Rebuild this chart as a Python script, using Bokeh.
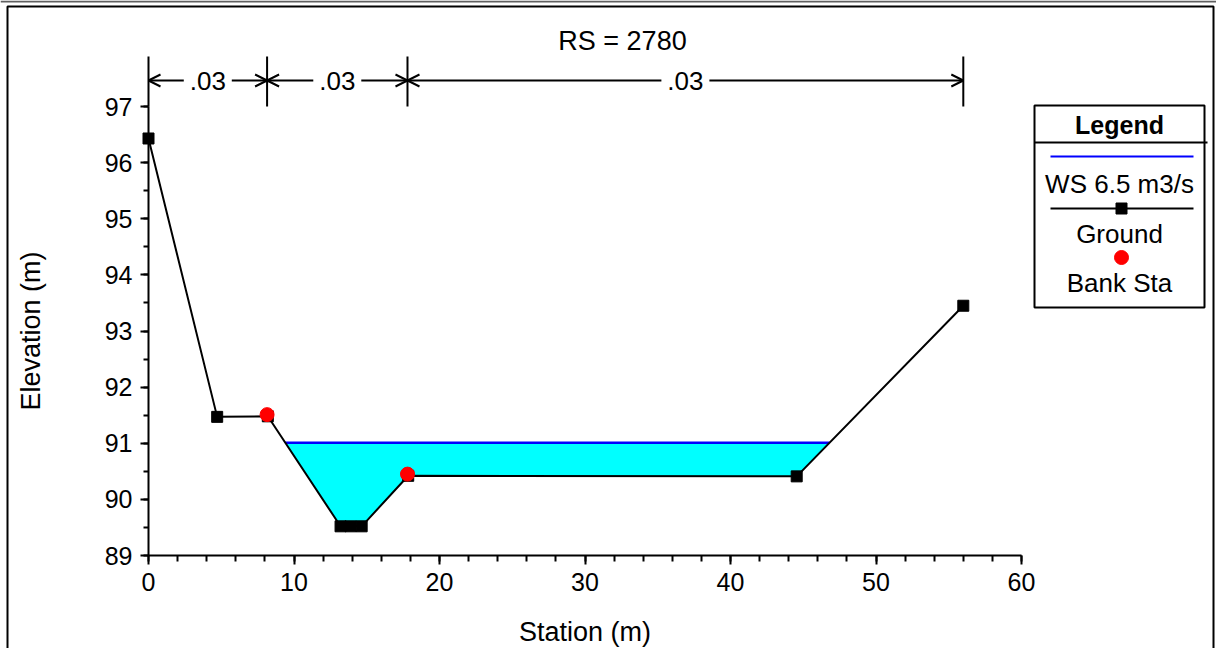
import numpy as np
from bokeh.plotting import figure
from bokeh.models import Range1d, SingleIntervalTicker, Arrow, OpenHead, Label
from bokeh.embed import file_html
from bokeh.resources import INLINE

# ---- cross-section data -------------------------------------------------
river_station = "2780"

# ground profile (station, elevation) in metres
station = [0.0, 4.72, 8.2, 13.2, 13.9, 14.65, 17.85, 44.55, 56.0]
elevation = [96.43, 91.47, 91.48, 89.52, 89.52, 89.52, 90.42, 90.41, 93.45]

# left / right bank stations
bank_station = [8.15, 17.8]
bank_elevation = [91.51, 90.45]

# computed water surface
ws_label = "WS 6.5 m3/s"
ws_elevation = 91.01

# Manning's n regions
n_bounds = [0.0, 8.15, 17.8, 56.0]
n_values = [".03", ".03", ".03"]

# axis extents
x_min, x_max, x_step = 0, 60, 10
y_min, y_max, y_step = 89, 97, 1

FONT = "Liberation Sans"
W, H = 1216, 648
# canvas pixels of the axis corners
AX_L, AX_R, AX_T, AX_B = 148.0, 1021.0, 106.0, 555.0
SX = (AX_R - AX_L) / (x_max - x_min)
SY = (AX_B - AX_T) / (y_max - y_min)


def X(px):
    """canvas column -> station"""
    return x_min + (px - AX_L) / SX


def Y(py):
    """canvas row -> elevation"""
    return y_min + (AX_B - py) / SY


def wet_area(xs, ys, level):
    """Polygon of the flow area below the water level."""
    px, py = [], []
    for i in range(len(xs) - 1):
        x0, y0, x1, y1 = xs[i], ys[i], xs[i + 1], ys[i + 1]
        if y0 < level:
            px.append(x0)
            py.append(y0)
        if (y0 - level) * (y1 - level) < 0:
            px.append(x0 + (level - y0) * (x1 - x0) / (y1 - y0))
            py.append(level)
    if ys[-1] < level:
        px.append(xs[-1])
        py.append(ys[-1])
    return px, py


# the frame fills the whole canvas; axes sit at fixed data locations inside it
p = figure(width=W, height=H, x_range=Range1d(X(0), X(W)),
           y_range=Range1d(Y(H), Y(0)), output_backend="svg",
           toolbar_location=None, min_border=0)
p.grid.visible = False
p.outline_line_color = None
p.background_fill_color = "white"
p.border_fill_color = "white"

# ---- axes ---------------------------------------------------------------
p.xaxis.ticker = SingleIntervalTicker(interval=x_step, num_minor_ticks=5)
p.yaxis.ticker = SingleIntervalTicker(interval=y_step, num_minor_ticks=2)
p.xaxis.bounds = (x_min, x_max)
p.yaxis.bounds = (y_min, y_max)
p.xaxis.fixed_location = y_min
p.yaxis.fixed_location = x_min
p.xaxis.axis_label = "Station (m)"
p.yaxis.axis_label = "Elevation (m)"
for ax in (p.xaxis[0], p.yaxis[0]):
    ax.axis_line_width = 2
    ax.axis_line_color = "black"
    ax.major_tick_line_width = 2
    ax.minor_tick_line_width = 2
    ax.major_tick_line_color = "black"
    ax.minor_tick_line_color = "black"
    ax.major_tick_in = 0
    ax.minor_tick_in = 0
    ax.major_label_text_font = FONT
    ax.major_label_text_font_size = "25px"
    ax.major_label_text_color = "black"
    ax.axis_label_text_font = FONT
    ax.axis_label_text_font_size = "27px"
    ax.axis_label_text_font_style = "normal"
    ax.axis_label_text_color = "black"
p.xaxis.major_tick_out = 9
p.xaxis.minor_tick_out = 6
p.xaxis.major_label_standoff = 8
p.xaxis.axis_label_standoff = 23
p.yaxis.major_tick_out = 8
p.yaxis.minor_tick_out = 5
p.yaxis.major_label_standoff = 8
p.yaxis.axis_label_standoff = 56

# ---- water, ground, banks ----------------------------------------------
wx, wy = wet_area(station, elevation, ws_elevation)
p.patch(wx, wy, fill_color="#00FFFF", line_color=None)
p.line([wx[0], wx[-1]], [ws_elevation, ws_elevation], line_color="#0000FF",
       line_width=2.5)
p.line(station, elevation, line_color="black", line_width=2)
p.scatter(station, elevation, marker="square", size=11, fill_color="black",
          line_color="black")
p.scatter(bank_station, bank_elevation, marker="circle", size=14,
          fill_color="#FF0000", line_color="#FF0000")

# ---- Manning's n brackets above the section ----------------------------
ARROW_Y = Y(80)
p.segment(x0=n_bounds, y0=[y_max] * len(n_bounds), x1=n_bounds,
          y1=[Y(56)] * len(n_bounds), line_color="black", line_width=2)
gap = 24 / SX
mids = [(a + b) / 2 for a, b in zip(n_bounds[:-1], n_bounds[1:])]
for a, b, m in zip(n_bounds[:-1], n_bounds[1:], mids):
    for tip, tail in ((a, m - gap), (b, m + gap)):
        p.add_layout(Arrow(x_start=tail, y_start=ARROW_Y, x_end=tip, y_end=ARROW_Y,
                           start=None,
                           end=OpenHead(size=12, line_width=2, line_color="black"),
                           line_color="black", line_width=2))
for m, nv in zip(mids, n_values):
    p.add_layout(Label(x=m, y=ARROW_Y, text=nv, text_align="center",
                       text_baseline="middle", text_font=FONT,
                       text_font_size="26px", text_color="black"))

# ---- title ---------------------------------------------------------------
p.add_layout(Label(x=X(622), y=Y(40), text="RS = " + river_station,
                   text_align="center", text_baseline="middle", text_font=FONT,
                   text_font_size="27px", text_color="black"))

# ---- outer frame ----------------------------------------------------------
p.segment(x0=[X(0)], y0=[Y(1)], x1=[X(W)], y1=[Y(1)], line_color="#606060",
          line_width=2)
p.quad(left=[X(7)], right=[X(1213)], top=[Y(6)], bottom=[Y(H + 40)],
       fill_color=None, line_color="black", line_width=2)

# ---- legend box -----------------------------------------------------------
LG_L, LG_R, LG_T, LG_B = 1034, 1204, 105, 307
LG_C = (LG_L + LG_R) / 2
p.quad(left=[X(LG_L)], right=[X(LG_R)], top=[Y(LG_T)], bottom=[Y(LG_B)],
       fill_color="white", line_color="black", line_width=2)
p.segment(x0=[X(LG_L)], y0=[Y(142)], x1=[X(1207)], y1=[Y(142)],
          line_color="black", line_width=2)
p.add_layout(Label(x=X(LG_C), y=Y(124), text="Legend", text_align="center",
                   text_baseline="middle", text_font=FONT, text_font_size="25px",
                   text_font_style="bold", text_color="black"))

# water surface entry
p.segment(x0=[X(1050)], y0=[Y(156)], x1=[X(1193)], y1=[Y(156)],
          line_color="#0000FF", line_width=2)
p.add_layout(Label(x=X(LG_C), y=Y(183), text=ws_label, text_align="center",
                   text_baseline="middle", text_font=FONT, text_font_size="26px",
                   text_color="black"))

# ground entry
p.segment(x0=[X(1050)], y0=[Y(208)], x1=[X(1193)], y1=[Y(208)],
          line_color="black", line_width=2)
p.scatter([X(1121)], [Y(208)], marker="square", size=11, fill_color="black",
          line_color="black")
p.add_layout(Label(x=X(LG_C), y=Y(233), text="Ground", text_align="center",
                   text_baseline="middle", text_font=FONT, text_font_size="26px",
                   text_color="black"))

# bank station entry
p.scatter([X(1121)], [Y(257)], marker="circle", size=14, fill_color="#FF0000",
          line_color="#FF0000")
p.add_layout(Label(x=X(LG_C), y=Y(282), text="Bank Sta", text_align="center",
                   text_baseline="middle", text_font=FONT, text_font_size="26px",
                   text_color="black"))

open("out.html", "w").write(file_html(p, INLINE))
